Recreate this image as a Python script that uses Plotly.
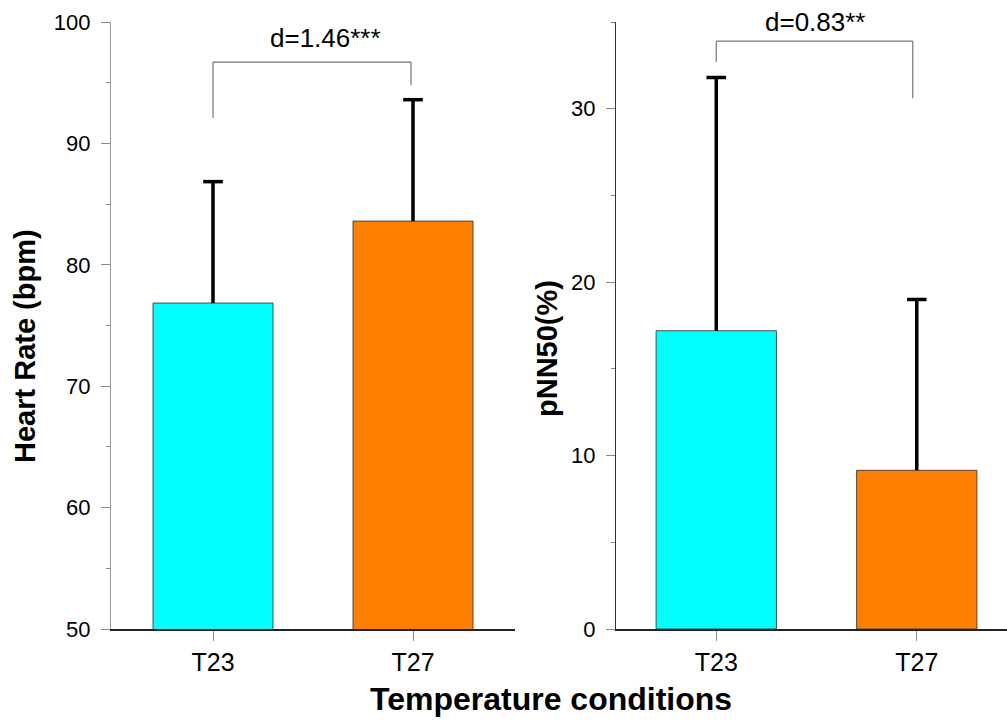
import plotly.graph_objects as go

# Group labels and summary statistics (mean and SD) for each condition
conditions = ["T23", "T27"]
heart_rate_mean = [76.85, 83.6]
heart_rate_sd = [10.0, 10.0]
pnn50_mean = [17.2, 9.15]
pnn50_sd = [14.6, 9.85]
bar_colors = ["#00FFFF", "#FF8000"]

# Effect-size labels and bracket heights (leg bottoms left/right, bracket top)
hr_effect = "d=1.46***"
hr_bracket = [92.1, 94.8, 96.7]
pnn_effect = "d=0.83**"
pnn_bracket = [32.7, 30.6, 33.9]

W, H = 1007, 726
FONT = "Arial, Liberation Sans, sans-serif"

fig = go.Figure()


def add_panel(xa, ya, means, sds):
    fig.add_trace(go.Bar(
        x=conditions, y=means, width=0.6,
        marker=dict(color=bar_colors, line=dict(color="rgba(40,40,40,0.8)", width=1)),
        xaxis=xa, yaxis=ya, showlegend=False, hoverinfo="skip",
    ))
    # upward-only error bars: stem plus cap
    xs, ys = [], []
    for c, m, s in zip(conditions, means, sds):
        xs += [c, c, None]
        ys += [m, m + s, None]
    fig.add_trace(go.Scatter(
        x=xs, y=ys, mode="lines", line=dict(color="black", width=3.5),
        xaxis=xa, yaxis=ya, showlegend=False, hoverinfo="skip", cliponaxis=False,
    ))
    fig.add_trace(go.Scatter(
        x=conditions, y=[m + s for m, s in zip(means, sds)], mode="markers",
        marker=dict(symbol="line-ew", size=14, line=dict(color="black", width=3.5)),
        xaxis=xa, yaxis=ya, showlegend=False, hoverinfo="skip", cliponaxis=False,
    ))


add_panel("x", "y", heart_rate_mean, heart_rate_sd)
add_panel("x2", "y2", pnn50_mean, pnn50_sd)


def add_bracket(xref, yref, legs, right_x=1.0):
    left_low, right_low, top = legs
    pts = [(0, left_low), (0, top), (right_x, top), (right_x, right_low)]
    for (x0, y0), (x1, y1) in zip(pts[:-1], pts[1:]):
        fig.add_shape(type="line", xref=xref, yref=yref, x0=x0, y0=y0, x1=x1, y1=y1,
                      line=dict(color="#777777", width=1.2))


add_bracket("x", "y", hr_bracket, 0.99)
add_bracket("x2", "y2", pnn_bracket, 0.98)

fig.add_annotation(x=0.56, y=98.7, xref="x", yref="y", text=hr_effect, showarrow=False,
                   font=dict(family=FONT, size=26, color="black"),
                   xanchor="center", yanchor="middle")
fig.add_annotation(x=0.49, y=35.0, xref="x2", yref="y2", text=pnn_effect, showarrow=False,
                   font=dict(family=FONT, size=26, color="black"),
                   xanchor="center", yanchor="middle")

# Axis titles
fig.add_annotation(x=25 / W, y=1 - 346 / H, xref="paper", yref="paper",
                   text="<b>Heart Rate (bpm)</b>", textangle=-90, showarrow=False,
                   xanchor="center", yanchor="middle",
                   font=dict(family=FONT, size=29, color="black"))
fig.add_annotation(x=547 / W, y=1 - 349 / H, xref="paper", yref="paper",
                   text="<b>pNN50(%)</b>", textangle=-90, showarrow=False,
                   xanchor="center", yanchor="middle",
                   font=dict(family=FONT, size=29, color="black"))
fig.add_annotation(x=551 / W, y=1 - 699 / H, xref="paper", yref="paper",
                   text="<b>Temperature conditions</b>", showarrow=False,
                   xanchor="center", yanchor="middle",
                   font=dict(family=FONT, size=32, color="black"))

ydom = [1 - 629 / H, 1 - 22 / H]

xaxis_common = dict(
    type="category", showline=True, linecolor="#222222", linewidth=1.5,
    ticks="outside", ticklen=10, tickcolor="#888888", tickwidth=1.2,
    tickfont=dict(family=FONT, size=25, color="black"), showgrid=False, zeroline=False,
    fixedrange=True, automargin=False,
)
yaxis_common = dict(
    showline=True, linewidth=1.2, ticks="outside", ticklen=9, tickcolor="#888888",
    tickwidth=1.2, tickfont=dict(family=FONT, size=22, color="black"),
    showgrid=False, zeroline=False, ticklabelstandoff=6, automargin=False,
    minor=dict(ticks="outside", ticklen=4, tickcolor="#888888", tickwidth=1.2, dtick=5),
)

fig.update_layout(
    width=W, height=H, margin=dict(l=0, r=0, t=0, b=0, pad=0, autoexpand=False),
    paper_bgcolor="white", plot_bgcolor="white",
    xaxis=dict(domain=[111 / W, 515 / W], range=[-0.51, 1.51], anchor="y", **xaxis_common),
    yaxis=dict(domain=ydom, range=[50, 100], dtick=10, linecolor="#999999", anchor="x",
               **yaxis_common),
    xaxis2=dict(domain=[616 / W, 1.0], range=[-0.5, 1.45], anchor="y2", **xaxis_common),
    yaxis2=dict(domain=ydom, range=[0, 35], dtick=10, linecolor="#333333", anchor="x2",
                **yaxis_common),
    bargap=0.4,
)

fig.write_html("out.html")
